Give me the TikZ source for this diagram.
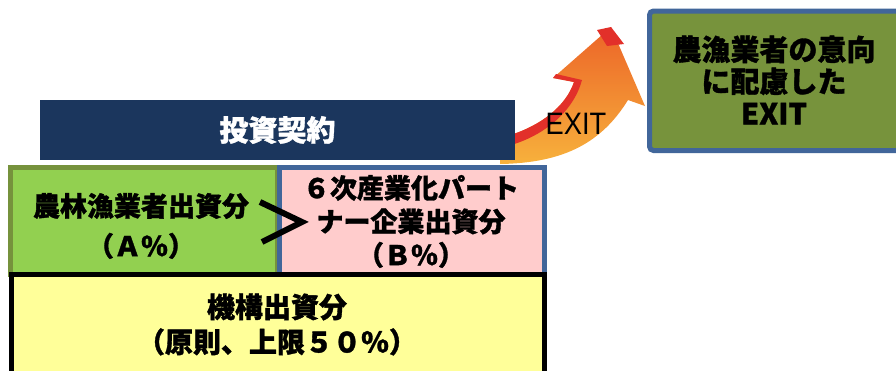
\documentclass[tikz,border=0pt]{standalone}
\usepackage{fontspec}
\newfontfamily\jp{Noto Sans CJK JP}[BoldFeatures={FakeBold=1.2}]
\newfontfamily\lib{Liberation Sans}
\definecolor{navy}{HTML}{1B365D}
\definecolor{lgreen}{HTML}{92D050}
\definecolor{olive}{HTML}{76923C}
\definecolor{pinkf}{HTML}{FFCCCC}
\definecolor{steel}{HTML}{41669A}
\definecolor{yell}{HTML}{FFFF99}
\definecolor{dolive}{HTML}{77933C}
\definecolor{arrLight}{HTML}{F7B13C}
\definecolor{arrDark}{HTML}{EC6428}
\definecolor{arrRed}{HTML}{E2302A}
\tikzset{
  boxtext/.style={text=black, align=center, inner sep=0pt},
}
\begin{document}
\begin{tikzpicture}[x=1pt,y=-1pt]
\useasboundingbox (0,0) rectangle (896,370);
\clip (0,0) rectangle (896,370);

% curved EXIT arrow
\shade[top color=arrDark, bottom color=arrLight]
  (500,138) .. controls (540,128) and (566,106) .. (574,82)
  -- (553,78) -- (611,27) -- (645,106) -- (628,100)
  .. controls (602,142) and (565,163) .. (500,164) -- cycle;
% red side face along the upper edge
\fill[arrRed] (500,138) .. controls (540,128) and (566,106) .. (574,82)
  -- (553,78) -- (556,74) -- (582,80)
  .. controls (574,110) and (545,138) .. (500,148) -- cycle;
\fill[arrRed] (597,30) -- (611,27) -- (624,44) -- (607,46) -- cycle;

% invest contract bar
\node[fill=navy, minimum width=475pt, minimum height=60pt, inner sep=0pt,
      text=white, font={\jp\bfseries\fontsize{29}{34}\selectfont}]
      (contract) at (277.5,130) {投資契約};

\node[font={\lib\fontsize{31}{36}\selectfont}, xscale=0.88, inner sep=0pt]
      (exit) at (576,124) {EXIT};

% right box
\draw[steel, line width=5pt, fill=dolive, rounded corners=4pt]
      (649.5,11) rectangle (910,150.5);
\node[boxtext, font={\jp\bfseries\fontsize{29}{32}\selectfont}]
      (goal) at (774,80) {農漁業者の意向\\に配慮した\\EXIT};

% green box (farmers)
\draw[olive, line width=5pt, fill=lgreen] (10,167.5) rectangle (277,274);
% pink box (partner)
\draw[steel, line width=5pt, fill=pinkf] (279,167.5) rectangle (544.5,274);
% yellow box (organisation)
\draw[black, line width=5pt, fill=yell] (11.5,274.5) rectangle (544,385);

\node[boxtext, font={\jp\bfseries\fontsize{27}{40}\selectfont}]
      (farm) at (141,226) {農林漁業者出資分\\（Ａ％）};
\node[boxtext, font={\jp\bfseries\fontsize{27}{33.5}\selectfont}]
      (partner) at (411,221.5) {６次産業化パート\\ナー企業出資分\\（Ｂ％）};
\node[boxtext, font={\jp\bfseries\fontsize{28}{35}\selectfont}]
      (org) at (277,324.5) {機構出資分\\（原則、上限５０％）};

% greater-than sign
\draw[black, line width=6pt] (260,202) -- (302,222) -- (262,242);
\end{tikzpicture}
\end{document}
